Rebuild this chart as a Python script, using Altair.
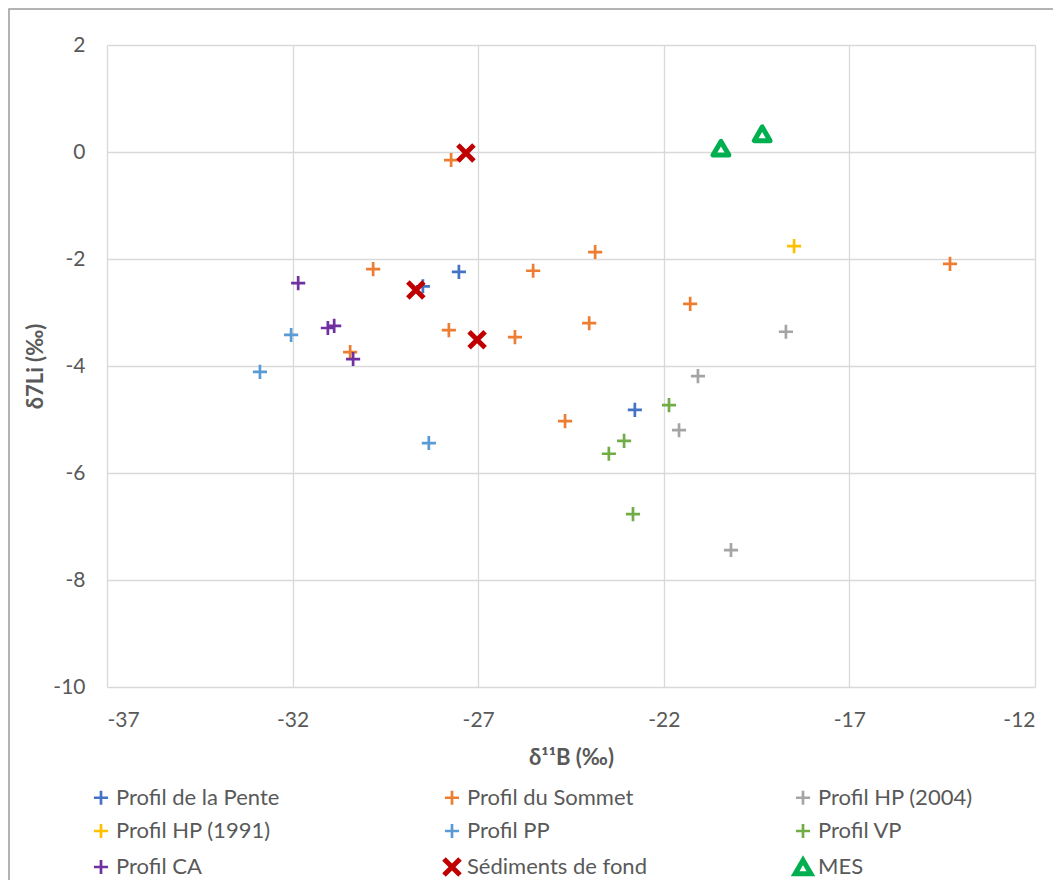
import altair as alt
import pandas as pd

series = ["Profil de la Pente", "Profil du Sommet", "Profil HP (2004)",
          "Profil HP (1991)", "Profil PP", "Profil VP", "Profil CA",
          "Sédiments de fond", "MES"]
colors = ["#4472C4", "#ED7D31", "#A5A5A5", "#FFC000", "#5B9BD5",
          "#70AD47", "#7030A0", "#C00000", "#00B050"]

pente_b = [-27.52, -28.49, -22.78]
pente_li = [-2.24, -2.51, -4.82]

sommet_b = [-27.73, -29.83, -25.52, -23.85, -14.29, -27.79, -26.01, -24.01, -21.29, -30.45, -24.66]
sommet_li = [-0.15, -2.19, -2.22, -1.87, -2.09, -3.33, -3.46, -3.20, -2.84, -3.74, -5.03]

hp2004_b = [-18.71, -21.08, -21.59, -20.19]
hp2004_li = [-3.36, -4.19, -5.20, -7.44]

hp1991_b = [-18.49]
hp1991_li = [-1.76]

pp_b = [-32.04, -32.88, -28.33]
pp_li = [-3.42, -4.11, -5.44]

vp_b = [-21.86, -23.07, -23.48, -22.83]
vp_li = [-4.73, -5.40, -5.64, -6.77]

ca_b = [-31.85, -31.05, -30.88, -30.37]
ca_li = [-2.45, -3.29, -3.25, -3.87]

sed_b = [-27.33, -28.68, -27.03]
sed_li = [-0.02, -2.58, -3.51]

mes_b = [-20.46, -19.35]
mes_li = [0.07, 0.34]

x_ticks = [-37, -32, -27, -22, -17, -12]
y_ticks = [-10, -8, -6, -4, -2, 0, 2]

all_b = [pente_b, sommet_b, hp2004_b, hp1991_b, pp_b, vp_b, ca_b, sed_b, mes_b]
all_li = [pente_li, sommet_li, hp2004_li, hp1991_li, pp_li, vp_li, ca_li, sed_li, mes_li]

rows = []
for i, (name, bs, lis) in enumerate(zip(series, all_b, all_li)):
    for b, li in zip(bs, lis):
        rows.append({"series": name, "order": i, "b": b, "li": li})
df = pd.DataFrame(rows)

PLUS = "M-1,0H1M0,-1V1"
CROSS = "M-1,-1L1,1M-1,1L1,-1"
shapes = [PLUS] * 7 + [CROSS, "triangle-up"]
sizes = [200] * 7 + [256, 250]
widths = [2.7] * 7 + [5, 5]
fills = ["transparent"] * 8 + ["white"]

W, H = 928, 642
TEXT = "#595959"
FONT = "Lato"

legend = alt.Legend(
    title=None, orient="none", legendX=-17, legendY=739, columns=3,
    direction="horizontal", gridAlign="all", columnPadding=138, rowPadding=0,
    labelFontSize=22, labelFont=FONT, labelColor=TEXT, labelOffset=4,
    labelLimit=400, symbolOpacity=1,
)

points = alt.Chart(df).mark_point(opacity=1, strokeJoin="round").encode(
    x=alt.X("b:Q", scale=alt.Scale(domain=[-37, -12], nice=False, zero=False),
            axis=alt.Axis(values=x_ticks, title="δ¹¹B (‰)",
                          labelExpr="toString(datum.value)")),
    y=alt.Y("li:Q", scale=alt.Scale(domain=[-10, 2], nice=False, zero=False),
            axis=alt.Axis(values=y_ticks, title="δ7Li (‰)",
                          labelExpr="toString(datum.value)")),
    color=alt.Color("series:N", scale=alt.Scale(domain=series, range=colors), legend=legend),
    shape=alt.Shape("series:N", scale=alt.Scale(domain=series, range=shapes), legend=legend),
    size=alt.Size("series:N", scale=alt.Scale(type="ordinal", domain=series, range=sizes), legend=legend),
    strokeWidth=alt.StrokeWidth("series:N", scale=alt.Scale(type="ordinal", domain=series, range=widths), legend=legend),
    fill=alt.Fill("series:N", scale=alt.Scale(domain=series, range=fills), legend=legend),
    order=alt.Order("order:Q"),
)

frame = alt.Chart(alt.Data(values=[{"a": 1}])).mark_rect(
    fillOpacity=0, stroke="#9a9a9a", strokeWidth=1.5
).encode(
    x=alt.value(-98), x2=alt.value(W + 200),
    y=alt.value(-36), y2=alt.value(H + 400),
)

chart = alt.layer(frame, points).properties(
    width=W, height=H,
    autosize=alt.AutoSizeParams(type="none"),
    padding={"left": 99, "top": 37, "right": 18, "bottom": 196},
).configure_view(stroke="transparent").configure_axis(
    grid=True, gridColor="#D9D9D9", gridWidth=1.3, domain=False, ticks=False,
    labelFont=FONT, labelFontSize=21, labelColor=TEXT,
    titleFont=FONT, titleFontSize=22, titleColor=TEXT, titleFontWeight="bold",
).configure_axisX(labelPadding=22, titlePadding=17).configure_axisY(
    labelPadding=22, titlePadding=5
)

chart.save("out.html", embed_options={"renderer": "svg", "actions": False})
